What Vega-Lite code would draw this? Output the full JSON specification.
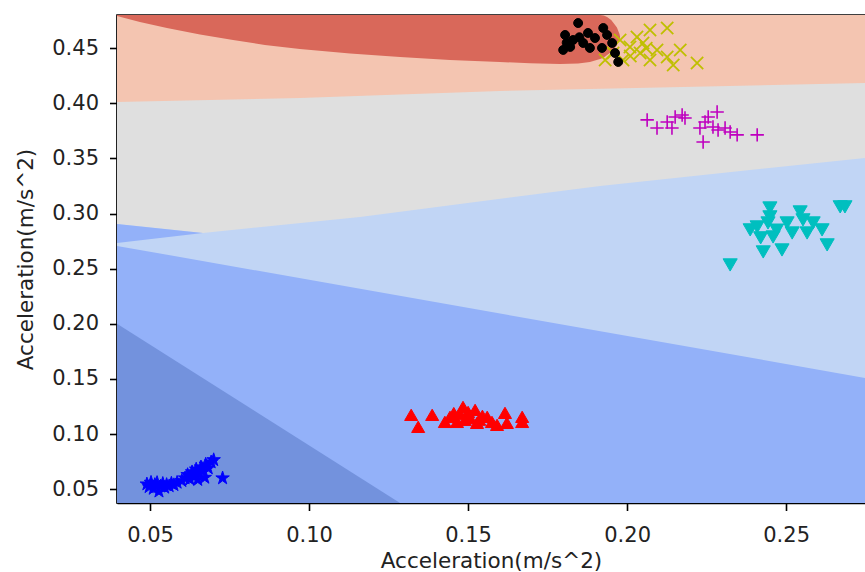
{
  "$schema": "https://vega.github.io/schema/vega-lite/v6.json",
  "width": 748,
  "height": 488,
  "autosize": {"type": "none"},
  "padding": {"left": 117, "top": 15, "right": 0, "bottom": 69},
  "background": "white",
  "config": {
    "view": {"stroke": "#000", "strokeWidth": 1.6},
    "axis": {
      "domainColor": "#000", "domainWidth": 1.6,
      "tickColor": "#000", "tickWidth": 1.6, "tickSize": 7.5,
      "labelFont": "DejaVu Sans", "labelFontSize": 21, "labelColor": "#222",
      "titleFont": "DejaVu Sans", "titleFontSize": 21.5, "titleFontWeight": "normal", "titleColor": "#222",
      "grid": false
    }
  },
  "datasets": {
    "regions": [
      {"piece": 1, "x": 0.0396, "y": 0.4802, "y2": 0.0374},
      {"piece": 1, "x": 0.2748, "y": 0.4802, "y2": 0.0374},
      {"piece": 2, "x": 0.0396, "y": 0.4013, "y2": 0.0374},
      {"piece": 2, "x": 0.0972, "y": 0.4049, "y2": 0.0374},
      {"piece": 2, "x": 0.1600, "y": 0.4113, "y2": 0.0374},
      {"piece": 2, "x": 0.2748, "y": 0.4185, "y2": 0.0374},
      {"piece": 3, "x": 0.0396, "y": 0.2906, "y2": 0.0374},
      {"piece": 3, "x": 0.0666, "y": 0.2825, "y2": 0.0374},
      {"piece": 3, "x": 0.1160, "y": 0.2970, "y2": 0.0374},
      {"piece": 3, "x": 0.1915, "y": 0.3251, "y2": 0.0374},
      {"piece": 3, "x": 0.2748, "y": 0.3505, "y2": 0.0374},
      {"piece": 4, "x": 0.0396, "y": 0.2707, "y2": 0.0374},
      {"piece": 4, "x": 0.2748, "y": 0.1509, "y2": 0.0374},
      {"piece": 5, "x": 0.0396, "y": 0.2906, "y2": 0.2734},
      {"piece": 5, "x": 0.0666, "y": 0.2825, "y2": 0.2825},
      {"piece": 6, "x": 0.0396, "y": 0.2000, "y2": 0.0374},
      {"piece": 6, "x": 0.1286, "y": 0.0374, "y2": 0.0374},
      {"piece": 7, "x": 0.0396, "y": 0.4802, "y2": 0.4793},
      {"piece": 7, "x": 0.0468, "y": 0.4802, "y2": 0.4739},
      {"piece": 7, "x": 0.0553, "y": 0.4802, "y2": 0.4684},
      {"piece": 7, "x": 0.0657, "y": 0.4802, "y2": 0.4625},
      {"piece": 7, "x": 0.0761, "y": 0.4802, "y2": 0.4575},
      {"piece": 7, "x": 0.0861, "y": 0.4802, "y2": 0.4530},
      {"piece": 7, "x": 0.0971, "y": 0.4802, "y2": 0.4494},
      {"piece": 7, "x": 0.1129, "y": 0.4802, "y2": 0.4453},
      {"piece": 7, "x": 0.1286, "y": 0.4802, "y2": 0.4421},
      {"piece": 7, "x": 0.1443, "y": 0.4802, "y2": 0.4394},
      {"piece": 7, "x": 0.1600, "y": 0.4802, "y2": 0.4376},
      {"piece": 7, "x": 0.1695, "y": 0.4802, "y2": 0.4364},
      {"piece": 7, "x": 0.1789, "y": 0.4802, "y2": 0.4358},
      {"piece": 7, "x": 0.1846, "y": 0.4802, "y2": 0.4362},
      {"piece": 7, "x": 0.1883, "y": 0.4802, "y2": 0.4376},
      {"piece": 7, "x": 0.1915, "y": 0.4802, "y2": 0.4403},
      {"piece": 7, "x": 0.1927, "y": 0.4797, "y2": 0.4417},
      {"piece": 7, "x": 0.1937, "y": 0.4784, "y2": 0.4439},
      {"piece": 7, "x": 0.1950, "y": 0.4757, "y2": 0.4466},
      {"piece": 7, "x": 0.1956, "y": 0.4734, "y2": 0.4485},
      {"piece": 7, "x": 0.1962, "y": 0.4711, "y2": 0.4507},
      {"piece": 7, "x": 0.1968, "y": 0.4689, "y2": 0.4530},
      {"piece": 7, "x": 0.1971, "y": 0.4666, "y2": 0.4548},
      {"piece": 7, "x": 0.1976, "y": 0.4630, "y2": 0.4575},
      {"piece": 7, "x": 0.1978, "y": 0.4602, "y2": 0.4602}
    ],
    "points": [
      {"cls": "1", "x": 0.0490, "y": 0.0545}, {"cls": "1", "x": 0.0497, "y": 0.0520}, {"cls": "1", "x": 0.0503, "y": 0.0560},
      {"cls": "1", "x": 0.0510, "y": 0.0505}, {"cls": "1", "x": 0.0515, "y": 0.0540}, {"cls": "1", "x": 0.0522, "y": 0.0558},
      {"cls": "1", "x": 0.0528, "y": 0.0480}, {"cls": "1", "x": 0.0533, "y": 0.0525}, {"cls": "1", "x": 0.0540, "y": 0.0550},
      {"cls": "1", "x": 0.0546, "y": 0.0515}, {"cls": "1", "x": 0.0552, "y": 0.0540}, {"cls": "1", "x": 0.0560, "y": 0.0528},
      {"cls": "1", "x": 0.0567, "y": 0.0552}, {"cls": "1", "x": 0.0575, "y": 0.0538}, {"cls": "1", "x": 0.0585, "y": 0.0560},
      {"cls": "1", "x": 0.0600, "y": 0.0575}, {"cls": "1", "x": 0.0610, "y": 0.0600}, {"cls": "1", "x": 0.0618, "y": 0.0630},
      {"cls": "1", "x": 0.0625, "y": 0.0590}, {"cls": "1", "x": 0.0632, "y": 0.0655}, {"cls": "1", "x": 0.0640, "y": 0.0615},
      {"cls": "1", "x": 0.0645, "y": 0.0680}, {"cls": "1", "x": 0.0652, "y": 0.0640}, {"cls": "1", "x": 0.0660, "y": 0.0700},
      {"cls": "1", "x": 0.0668, "y": 0.0665}, {"cls": "1", "x": 0.0675, "y": 0.0725}, {"cls": "1", "x": 0.0683, "y": 0.0690},
      {"cls": "1", "x": 0.0692, "y": 0.0745}, {"cls": "1", "x": 0.0700, "y": 0.0765}, {"cls": "1", "x": 0.0650, "y": 0.0585},
      {"cls": "1", "x": 0.0672, "y": 0.0605}, {"cls": "1", "x": 0.0728, "y": 0.0600},
      {"cls": "2", "x": 0.1321, "y": 0.1174}, {"cls": "2", "x": 0.1343, "y": 0.1065}, {"cls": "2", "x": 0.1387, "y": 0.1174},
      {"cls": "2", "x": 0.1427, "y": 0.1110}, {"cls": "2", "x": 0.1443, "y": 0.1156}, {"cls": "2", "x": 0.1465, "y": 0.1110},
      {"cls": "2", "x": 0.1484, "y": 0.1246}, {"cls": "2", "x": 0.1490, "y": 0.1129}, {"cls": "2", "x": 0.1506, "y": 0.1147},
      {"cls": "2", "x": 0.1522, "y": 0.1219}, {"cls": "2", "x": 0.1528, "y": 0.1101}, {"cls": "2", "x": 0.1545, "y": 0.1165},
      {"cls": "2", "x": 0.1560, "y": 0.1156}, {"cls": "2", "x": 0.1575, "y": 0.1110}, {"cls": "2", "x": 0.1591, "y": 0.1083},
      {"cls": "2", "x": 0.1616, "y": 0.1192}, {"cls": "2", "x": 0.1622, "y": 0.1101}, {"cls": "2", "x": 0.1670, "y": 0.1156},
      {"cls": "2", "x": 0.1670, "y": 0.1110}, {"cls": "2", "x": 0.1475, "y": 0.1180}, {"cls": "2", "x": 0.1500, "y": 0.1200},
      {"cls": "2", "x": 0.1455, "y": 0.1190}, {"cls": "2", "x": 0.1535, "y": 0.1130},
      {"cls": "3", "x": 0.2324, "y": 0.2534}, {"cls": "3", "x": 0.2387, "y": 0.2852}, {"cls": "3", "x": 0.2409, "y": 0.2879},
      {"cls": "3", "x": 0.2428, "y": 0.2652}, {"cls": "3", "x": 0.2449, "y": 0.3051}, {"cls": "3", "x": 0.2449, "y": 0.2970},
      {"cls": "3", "x": 0.2443, "y": 0.2915}, {"cls": "3", "x": 0.2459, "y": 0.2788}, {"cls": "3", "x": 0.2487, "y": 0.2670},
      {"cls": "3", "x": 0.2503, "y": 0.2915}, {"cls": "3", "x": 0.2519, "y": 0.2824}, {"cls": "3", "x": 0.2544, "y": 0.3015},
      {"cls": "3", "x": 0.2553, "y": 0.2943}, {"cls": "3", "x": 0.2566, "y": 0.2824}, {"cls": "3", "x": 0.2585, "y": 0.2915},
      {"cls": "3", "x": 0.2613, "y": 0.2852}, {"cls": "3", "x": 0.2629, "y": 0.2716}, {"cls": "3", "x": 0.2670, "y": 0.3061},
      {"cls": "3", "x": 0.2685, "y": 0.3061}, {"cls": "3", "x": 0.2470, "y": 0.2850}, {"cls": "3", "x": 0.2420, "y": 0.2780},
      {"cls": "4", "x": 0.2063, "y": 0.3850}, {"cls": "4", "x": 0.2094, "y": 0.3777}, {"cls": "4", "x": 0.2126, "y": 0.3831},
      {"cls": "4", "x": 0.2141, "y": 0.3777}, {"cls": "4", "x": 0.2151, "y": 0.3877}, {"cls": "4", "x": 0.2173, "y": 0.3895},
      {"cls": "4", "x": 0.2182, "y": 0.3868}, {"cls": "4", "x": 0.2229, "y": 0.3777}, {"cls": "4", "x": 0.2245, "y": 0.3831},
      {"cls": "4", "x": 0.2255, "y": 0.3877}, {"cls": "4", "x": 0.2283, "y": 0.3922}, {"cls": "4", "x": 0.2270, "y": 0.3786},
      {"cls": "4", "x": 0.2286, "y": 0.3759}, {"cls": "4", "x": 0.2239, "y": 0.3650}, {"cls": "4", "x": 0.2308, "y": 0.3777},
      {"cls": "4", "x": 0.2324, "y": 0.3741}, {"cls": "4", "x": 0.2346, "y": 0.3714}, {"cls": "4", "x": 0.2409, "y": 0.3714},
      {"cls": "5", "x": 0.1931, "y": 0.4394}, {"cls": "5", "x": 0.1956, "y": 0.4457}, {"cls": "5", "x": 0.1978, "y": 0.4575},
      {"cls": "5", "x": 0.1987, "y": 0.4394}, {"cls": "5", "x": 0.2009, "y": 0.4512}, {"cls": "5", "x": 0.2031, "y": 0.4602},
      {"cls": "5", "x": 0.2041, "y": 0.4457}, {"cls": "5", "x": 0.2050, "y": 0.4548}, {"cls": "5", "x": 0.2072, "y": 0.4666},
      {"cls": "5", "x": 0.2072, "y": 0.4394}, {"cls": "5", "x": 0.2094, "y": 0.4485}, {"cls": "5", "x": 0.2126, "y": 0.4684},
      {"cls": "5", "x": 0.2126, "y": 0.4421}, {"cls": "5", "x": 0.2145, "y": 0.4349}, {"cls": "5", "x": 0.2167, "y": 0.4485},
      {"cls": "5", "x": 0.2220, "y": 0.4367}, {"cls": "5", "x": 0.2010, "y": 0.4430}, {"cls": "5", "x": 0.2060, "y": 0.4500},
      {"cls": "6", "x": 0.1799, "y": 0.4485}, {"cls": "6", "x": 0.1805, "y": 0.4621}, {"cls": "6", "x": 0.1821, "y": 0.4512},
      {"cls": "6", "x": 0.1830, "y": 0.4575}, {"cls": "6", "x": 0.1846, "y": 0.4729}, {"cls": "6", "x": 0.1862, "y": 0.4548},
      {"cls": "6", "x": 0.1877, "y": 0.4639}, {"cls": "6", "x": 0.1883, "y": 0.4503}, {"cls": "6", "x": 0.1899, "y": 0.4593},
      {"cls": "6", "x": 0.1921, "y": 0.4503}, {"cls": "6", "x": 0.1925, "y": 0.4684}, {"cls": "6", "x": 0.1937, "y": 0.4621},
      {"cls": "6", "x": 0.1953, "y": 0.4548}, {"cls": "6", "x": 0.1962, "y": 0.4457}, {"cls": "6", "x": 0.1972, "y": 0.4376},
      {"cls": "6", "x": 0.1850, "y": 0.4600}, {"cls": "6", "x": 0.1810, "y": 0.4550}
    ]
  },
  "encoding": {
    "x": {"field": "x", "type": "quantitative",
          "scale": {"domain": [0.0396, 0.2748], "zero": false, "nice": false},
          "axis": {"values": [0.05, 0.1, 0.15, 0.2, 0.25], "format": ".2f", "labelPadding": 14,
                   "title": "Acceleration(m/s^2)", "titlePadding": 5}},
    "y": {"field": "y", "type": "quantitative",
          "scale": {"domain": [0.0374, 0.4802], "zero": false, "nice": false},
          "axis": {"values": [0.05, 0.1, 0.15, 0.2, 0.25, 0.3, 0.35, 0.4, 0.45], "format": ".2f", "labelPadding": 11,
                   "title": "Acceleration(m/s^2)", "titlePadding": 14}}
  },
  "layer": [
    {"data": {"name": "regions"}, "transform": [{"filter": "datum.piece == 1"}], "mark": {"type": "area", "color": "#f4c5b1"}, "encoding": {"y2": {"field": "y2"}}},
    {"data": {"name": "regions"}, "transform": [{"filter": "datum.piece == 2"}], "mark": {"type": "area", "color": "#dfdfdf"}, "encoding": {"y2": {"field": "y2"}}},
    {"data": {"name": "regions"}, "transform": [{"filter": "datum.piece == 3"}], "mark": {"type": "area", "color": "#c1d5f5"}, "encoding": {"y2": {"field": "y2"}}},
    {"data": {"name": "regions"}, "transform": [{"filter": "datum.piece == 4"}], "mark": {"type": "area", "color": "#93b1f9"}, "encoding": {"y2": {"field": "y2"}}},
    {"data": {"name": "regions"}, "transform": [{"filter": "datum.piece == 5"}], "mark": {"type": "area", "color": "#93b1f9"}, "encoding": {"y2": {"field": "y2"}}},
    {"data": {"name": "regions"}, "transform": [{"filter": "datum.piece == 6"}], "mark": {"type": "area", "color": "#7392dd"}, "encoding": {"y2": {"field": "y2"}}},
    {"data": {"name": "regions"}, "transform": [{"filter": "datum.piece == 7"}], "mark": {"type": "area", "color": "#d9685a"}, "encoding": {"y2": {"field": "y2"}}},
    {"data": {"name": "points"}, "transform": [{"filter": "datum.cls == '1'"}],
     "mark": {"type": "point", "shape": "M0,-1L0.2245,-0.309L0.9511,-0.309L0.3633,0.118L0.5878,0.809L0,0.382L-0.5878,0.809L-0.3633,0.118L-0.9511,-0.309L-0.2245,-0.309Z", "filled": true, "fill": "#0000ff", "stroke": "#0000ff", "strokeWidth": 1, "size": 200, "opacity": 1}},
    {"data": {"name": "points"}, "transform": [{"filter": "datum.cls == '2'"}],
     "mark": {"type": "point", "shape": "triangle-up", "filled": true, "fill": "#ff0000", "stroke": "#ff0000", "strokeWidth": 1, "size": 170, "opacity": 1}},
    {"data": {"name": "points"}, "transform": [{"filter": "datum.cls == '3'"}],
     "mark": {"type": "point", "shape": "triangle-down", "filled": true, "fill": "#00bfbf", "stroke": "#00bfbf", "strokeWidth": 1, "size": 200, "opacity": 1}},
    {"data": {"name": "points"}, "transform": [{"filter": "datum.cls == '4'"}],
     "mark": {"type": "point", "shape": "M-1,0L1,0M0,-1L0,1", "filled": false, "stroke": "#bf00bf", "strokeWidth": 1.6, "size": 180, "opacity": 1}},
    {"data": {"name": "points"}, "transform": [{"filter": "datum.cls == '5'"}],
     "mark": {"type": "point", "shape": "M-1,-1L1,1M-1,1L1,-1", "filled": false, "stroke": "#bfbf00", "strokeWidth": 1.8, "size": 150, "opacity": 1}},
    {"data": {"name": "points"}, "transform": [{"filter": "datum.cls == '6'"}],
     "mark": {"type": "point", "shape": "circle", "filled": true, "fill": "#000000", "stroke": "#000000", "strokeWidth": 1, "size": 80, "opacity": 1}}
  ]
}
